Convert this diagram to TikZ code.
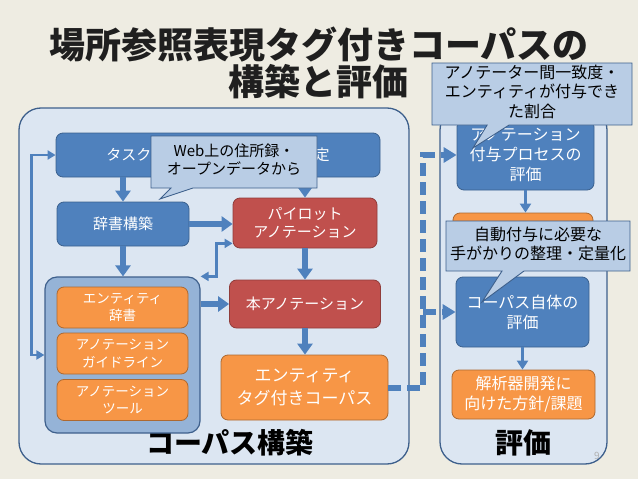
\documentclass[tikz,border=0pt]{standalone}
\usepackage{fontspec}
\setmainfont{Noto Sans CJK JP}
\usepackage{xcolor}
\usetikzlibrary{positioning,shapes.callouts,arrows.meta}
\definecolor{bgpaper}{RGB}{238,236,226}
\definecolor{panelfill}{RGB}{220,230,242}
\definecolor{paneledge}{RGB}{62,96,140}
\definecolor{stepblue}{RGB}{79,129,189}
\definecolor{stepred}{RGB}{192,80,77}
\definecolor{steporange}{RGB}{247,150,70}
\definecolor{innerfill}{RGB}{149,179,215}
\definecolor{notefill}{RGB}{185,205,229}
\newcommand{\lines}[1]{\begin{tabular}{@{}c@{}}#1\end{tabular}}

\begin{document}
\begin{tikzpicture}[x=1pt,y=-1pt,font=\fontsize{15}{18}\selectfont,
  bx/.style={rounded corners=7pt,line width=0.8pt,text=white,align=center,inner sep=0pt},
  bb/.style={bx,fill=stepblue,draw=stepblue!75!black},
  br/.style={bx,fill=stepred,draw=stepred!75!black},
  bo/.style={bx,fill=steporange,draw=steporange!70!black},
  pn/.style={draw=paneledge,line width=1.3pt,fill=panelfill,rounded corners=22pt},
  note/.style={rectangle callout,draw=paneledge,line width=0.9pt,fill=notefill,
    inner sep=0pt,callout pointer width=22pt,font=\fontsize{16}{19}\selectfont},
  arr/.style={stepblue,line width=6pt,-{Triangle[width=15pt,length=11pt]}},
  tarr/.style={stepblue,line width=2.6pt,{Triangle[width=9pt,length=8pt]}-{Triangle[width=9pt,length=8pt]}},
  sarr/.style={stepblue,line width=3.2pt,-{Triangle[width=11pt,length=9pt]}},
  darr/.style={stepblue,line width=6pt,dash pattern=on 13pt off 6pt,-{Triangle[width=15pt,length=13pt]}}]
  % paper
  \fill[bgpaper] (0,0) rectangle (638,479);
  \useasboundingbox (0,0) rectangle (638,479);
  % title
  \node[font=\fontsize{36}{37}\selectfont\bfseries,text=black!88,align=center] (title) at (319,63)
       {場所参照表現タグ付きコーパスの\\構築と評価};
  % panels
  \node[pn,minimum width=390pt,minimum height=356pt] (build) at (214,286) {};
  \node[pn,minimum width=167pt,minimum height=356pt] (evalp) at (523.5,286) {};
  \node[font=\fontsize{28}{30}\selectfont\bfseries] (buildlbl) at (230,443) {コーパス構築};
  \node[font=\fontsize{28}{30}\selectfont\bfseries] (evallbl) at (523,443) {評価};
  \node[text=black!30,font=\fontsize{10}{12}\selectfont] (pageno) at (597,456) {9};
  % corpus building
  \node[bb,minimum width=324pt,minimum height=44pt] (task) at (218,155) {タスクとアノテーション基準策定};
  \node[bb,minimum width=132pt,minimum height=44pt] (dict) at (123,224) {辞書構築};
  \node[br,minimum width=144pt,minimum height=50pt] (pilot) at (305,223) {パイロット\\アノテーション};
  \node[draw=paneledge,line width=1.2pt,fill=innerfill,rounded corners=12pt,
        minimum width=155pt,minimum height=156pt] (inner) at (122.5,355) {};
  \node[bo,minimum width=131pt,minimum height=41pt,font=\fontsize{13.5}{17.5}\selectfont] (entdict) at (122.5,307.5) {エンティティ\\辞書};
  \node[bo,minimum width=131pt,minimum height=41pt,font=\fontsize{13.5}{17.5}\selectfont] (guide) at (122.5,353.5) {アノテーション\\ガイドライン};
  \node[bo,minimum width=131pt,minimum height=41pt,font=\fontsize{13.5}{17.5}\selectfont] (tool) at (122.5,400) {アノテーション\\ツール};
  \node[br,minimum width=151pt,minimum height=48pt] (mainann) at (305,304) {本アノテーション};
  \node[bo,minimum width=167pt,minimum height=65pt,font=\fontsize{17}{23}\selectfont] (corpus) at (304.5,387.5) {エンティティ\\タグ付きコーパス};
  % evaluation
  \node[bb,minimum width=137pt,minimum height=70pt,font=\fontsize{16}{20}\selectfont] (proceval) at (525.5,155) {アノテーション\\付与プロセスの\\評価};
  \node[bo,minimum width=140pt,minimum height=50pt] (cluebox) at (523,238) {};
  \node[bb,minimum width=133pt,minimum height=70pt,font=\fontsize{16}{20}\selectfont] (corpeval) at (522.5,312) {コーパス自体の\\評価};
  \node[bo,minimum width=143pt,minimum height=49pt,font=\fontsize{16}{20}\selectfont] (parser) at (523.5,394.5) {解析器開発に\\向けた方針/課題};
  % arrows
  \draw[arr] (dict.north |- task.south) -- (dict.north);
  \draw[arr] (pilot.north |- task.south) -- (pilot.north);
  \draw[arr] (dict.east) -- (dict.east -| pilot.west);
  \draw[arr] (dict.south) -- (dict.south |- inner.north);
  \draw[arr] (pilot.south) -- (mainann.north);
  \draw[arr] (inner.east |- mainann.west) -- (mainann.west);
  \draw[arr] (mainann.south) -- (mainann.south |- corpus.north);
  \draw[tarr] ([yshift=5pt]pilot.south west) -- ++(-16,0) |- (inner.north east);
  \draw[tarr] (task.west) -| ([xshift=-13pt]inner.west) -- (inner.west);
  \draw[sarr] (proceval.south) -- (proceval.south |- cluebox.north);
  \draw[sarr] (corpeval.south) -- (corpeval.south |- parser.north);
  % corpus feeds evaluation
  \draw[darr] (corpus.east) -- ++(35,0) coordinate (fork) |- (proceval.west);
  \draw[darr] (fork |- corpeval.west) -- (corpeval.west);
  % callouts
  \node[note,minimum width=166pt,minimum height=52pt,font=\fontsize{15}{18.5}\selectfont,
        callout absolute pointer={(160,199)}] (webnote) at (234,162) {\lines{Web上の住所録・\\オープンデータから}};
  \node[note,minimum width=200pt,minimum height=62pt,callout absolute pointer={(473,148)}] (agreenote) at (532,94)
       {\lines{アノテーター間一致度・\\エンティティが付与でき\\た割合}};
  \node[note,minimum width=184pt,minimum height=50pt,callout absolute pointer={(482,302)}] (cluenote) at (538,246)
       {\lines{自動付与に必要な\\手がかりの整理・定量化}};
\end{tikzpicture}
\end{document}
